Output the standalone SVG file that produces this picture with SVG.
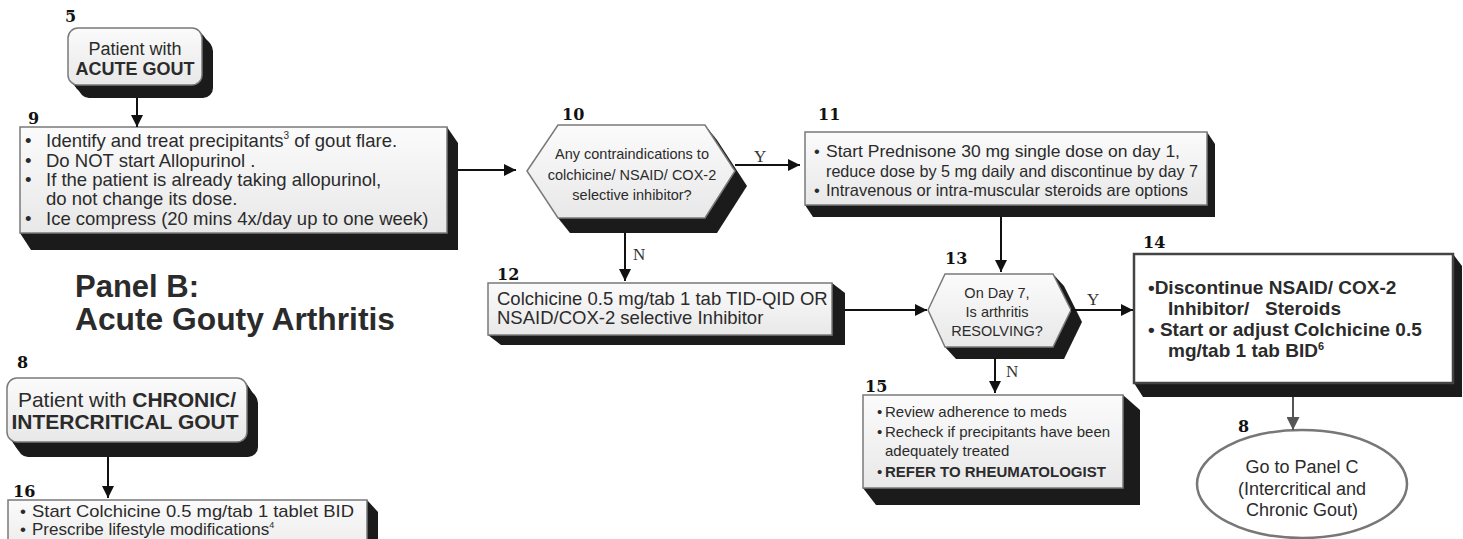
<svg xmlns="http://www.w3.org/2000/svg" width="1463" height="539" viewBox="0 0 1463 539">
<defs>
<linearGradient id="g" x1="0" y1="0" x2="0" y2="1"><stop offset="0" stop-color="#fbfbfb"/><stop offset="1" stop-color="#e8e8e8"/></linearGradient>
<marker id="ah" viewBox="0 0 10 10" refX="10" refY="5" markerWidth="12" markerHeight="12" markerUnits="userSpaceOnUse" orient="auto"><path d="M0,0 L10,5 L0,10 z" fill="#111"/></marker>
<marker id="ahg" viewBox="0 0 10 10" refX="10" refY="5" markerWidth="13" markerHeight="13" markerUnits="userSpaceOnUse" orient="auto"><path d="M0,0 L10,5 L0,10 z" fill="#555"/></marker>
<style>
.face{fill:url(#g);stroke:#7a7a7a;stroke-width:1.5}
.ext{fill:#1b1b1b}
.lbl{font-family:"DejaVu Serif",serif;font-weight:bold;font-size:16px;fill:#111}
.t{font-family:"Liberation Sans",Arial,sans-serif;fill:#2b2b2b}
.b{font-weight:bold}
.yn{font-family:"Liberation Serif","Times New Roman",serif;font-size:17px;fill:#333}
.c line{stroke:#111;stroke-width:2;marker-end:url(#ah)}
</style>
</defs>
<rect width="1463" height="539" fill="#fff"/>

<g id="title">
<text class="t b" x="75" y="297" font-size="31" fill="#222">Panel B:</text>
<text class="t b" x="75" y="330" font-size="31" fill="#222" textLength="320" lengthAdjust="spacingAndGlyphs">Acute Gouty Arthritis</text>
</g>

<g id="n5">
<text class="lbl" x="65" y="22">5</text>
<g class="ext">
<rect x="70" y="30" width="134" height="57" rx="10"/><rect x="72" y="32" width="134" height="57" rx="10"/><rect x="74" y="35" width="134" height="57" rx="10"/><rect x="76" y="37" width="134" height="57" rx="10"/><rect x="78" y="39" width="134" height="57" rx="10"/><rect x="79" y="41" width="134" height="57" rx="10"/>
</g>
<rect class="face" x="68" y="28" width="134" height="57" rx="10"/>
<text class="t" x="135" y="55" font-size="18" text-anchor="middle">Patient with</text>
<text class="t b" x="135" y="75" font-size="18" text-anchor="middle">ACUTE GOUT</text>
</g>

<g id="n9">
<text class="lbl" x="28" y="124">9</text>
<polygon class="ext" points="20,127 447,127 458,143 458,250 31,250 20,233"/>
<rect class="face" x="20" y="127" width="427" height="106"/>
<g class="t" font-size="18.5">
<text x="25" y="147">•</text><text x="46" y="147">Identify and treat precipitants<tspan font-size="10" dy="-8">3</tspan><tspan dy="8"> of gout flare.</tspan></text>
<text x="25" y="167">•</text><text x="46" y="167">Do NOT start Allopurinol .</text>
<text x="25" y="186">•</text><text x="46" y="186">If the patient is already taking allopurinol,</text>
<text x="46" y="205">do not change its dose.</text>
<text x="25" y="225">•</text><text x="46" y="225">Ice compress (20 mins 4x/day up to one week)</text>
</g>
</g>

<g id="n10">
<text class="lbl" x="562" y="120">10</text>
<polygon class="ext" points="527,171 558,125 705,125 717,140 747,186 717,233 570,233 558,218"/>
<polygon class="face" points="527,171 558,125 705,125 735,171 705,218 558,218"/>
<g class="t" font-size="14.5" text-anchor="middle">
<text x="632" y="159">Any contraindications to</text>
<text x="632" y="180">colchicine/ NSAID/ COX-2</text>
<text x="632" y="200">selective inhibitor?</text>
</g>
</g>

<g id="n11">
<text class="lbl" x="818" y="120">11</text>
<polygon class="ext" points="805,132 1207,132 1215,144 1215,217 813,217 805,205"/>
<rect class="face" x="805" y="132" width="402" height="73"/>
<g class="t" font-size="16.5">
<text x="814" y="157">•</text><text x="826" y="157" textLength="354" lengthAdjust="spacingAndGlyphs">Start Prednisone 30 mg single dose on day 1,</text>
<text x="826" y="177" textLength="372" lengthAdjust="spacingAndGlyphs">reduce dose by 5 mg daily and discontinue by day 7</text>
<text x="814" y="196">•</text><text x="826" y="196" textLength="362" lengthAdjust="spacingAndGlyphs">Intravenous or intra-muscular steroids are options</text>
</g>
</g>

<g id="n12">
<text class="lbl" x="497" y="280">12</text>
<polygon class="ext" points="488,283 832,283 845,293 845,345 501,345 488,335"/>
<rect class="face" x="488" y="283" width="344" height="52"/>
<g class="t" font-size="18.5">
<text x="497" y="305">Colchicine 0.5 mg/tab 1 tab TID-QID OR</text>
<text x="497" y="324">NSAID/COX-2 selective Inhibitor</text>
</g>
</g>

<g id="n13">
<text class="lbl" x="945" y="264">13</text>
<polygon class="ext" points="928,310 945,274 1053,274 1064,286 1082,322 1064,359 956,359 945,347"/>
<polygon class="face" points="928,310 945,274 1053,274 1071,310 1053,347 945,347"/>
<g class="t" font-size="14.5" text-anchor="middle">
<text x="997" y="298">On Day 7,</text>
<text x="997" y="317">Is arthritis</text>
<text x="997" y="336">RESOLVING?</text>
</g>
</g>

<g id="n14">
<text class="lbl" x="1143" y="248">14</text>
<polygon class="ext" points="1134,254 1453,254 1462,266 1462,397 1143,397 1134,383"/>
<rect x="1134" y="254" width="319" height="129" fill="#fff" stroke="#444" stroke-width="2.5"/>
<g class="t b" font-size="19" fill="#222">
<text x="1148" y="294">•Discontinue NSAID/ COX-2</text>
<text x="1168" y="315">Inhibitor/</text><text x="1265" y="315">Steroids</text>
<text x="1148" y="336">• Start or adjust Colchicine 0.5</text>
<text x="1168" y="357">mg/tab 1 tab BID<tspan font-size="11" dy="-7">6</tspan></text>
</g>
</g>

<g id="n15">
<text class="lbl" x="865" y="392">15</text>
<polygon class="ext" points="863,395 1123,395 1140,410 1140,505 876,505 863,488"/>
<rect class="face" x="863" y="395" width="260" height="93"/>
<g class="t" font-size="15">
<text x="877" y="417">•</text><text x="885" y="417">Review adherence to meds</text>
<text x="877" y="437">•</text><text x="885" y="437">Recheck if precipitants have been</text>
<text x="885" y="456">adequately treated</text>
<text x="877" y="477">•</text><text class="b" x="885" y="477">REFER TO RHEUMATOLOGIST</text>
</g>
</g>

<g id="n8b">
<text class="lbl" x="1238" y="432">8</text>
<ellipse cx="1302" cy="484" rx="105" ry="54" fill="#fff" stroke="#777" stroke-width="2.5"/>
<g class="t" font-size="18" fill="#444" text-anchor="middle">
<text x="1302" y="473">Go to Panel C</text>
<text x="1302" y="495">(Intercritical and</text>
<text x="1302" y="516">Chronic Gout)</text>
</g>
</g>

<g id="n8">
<text class="lbl" x="17" y="368">8</text>
<g class="ext">
<rect x="9" y="380" width="240" height="64" rx="10"/><rect x="11" y="383" width="240" height="64" rx="10"/><rect x="13" y="386" width="240" height="64" rx="10"/><rect x="15" y="389" width="240" height="64" rx="10"/><rect x="17" y="391" width="240" height="64" rx="10"/><rect x="18" y="393" width="240" height="64" rx="10"/>
</g>
<rect class="face" x="7" y="378" width="240" height="64" rx="10"/>
<text class="t" x="127" y="407" font-size="21" text-anchor="middle">Patient with <tspan class="b">CHRONIC/</tspan></text>
<text class="t b" x="125" y="429" font-size="21" text-anchor="middle">INTERCRITICAL GOUT</text>
</g>

<g id="n16">
<text class="lbl" x="13" y="497">16</text>
<polygon class="ext" points="8,500 367,500 378,512 378,560 8,560"/>
<rect class="face" x="8" y="500" width="359" height="60"/>
<g class="t" font-size="17">
<text x="20" y="517">•</text><text x="32" y="517" textLength="322" lengthAdjust="spacingAndGlyphs">Start Colchicine 0.5 mg/tab 1 tablet BID</text>
<text x="20" y="535">•</text><text x="32" y="535">Prescribe lifestyle modifications<tspan font-size="9" dy="-7">4</tspan></text>
</g>
</g>

<g id="connectors" class="c">
<line x1="137" y1="98" x2="137" y2="127"/>
<line x1="458" y1="170" x2="516" y2="170"/>
<line x1="735" y1="165" x2="800" y2="165"/>
<line x1="625" y1="233" x2="625" y2="281"/>
<line x1="1001" y1="217" x2="1001" y2="272"/>
<line x1="845" y1="310" x2="927" y2="310"/>
<line x1="1071" y1="310" x2="1133" y2="310"/>
<line x1="995" y1="358" x2="995" y2="393"/>
<line x1="1293" y1="397" x2="1293" y2="430" style="stroke:#555;marker-end:url(#ahg)"/>
<line x1="108" y1="457" x2="108" y2="498"/>
<text class="yn" x="754" y="162">Y</text>
<text class="yn" x="633" y="260">N</text>
<text class="yn" x="1087" y="305">Y</text>
<text class="yn" x="1006" y="377">N</text>
</g>
</svg>
